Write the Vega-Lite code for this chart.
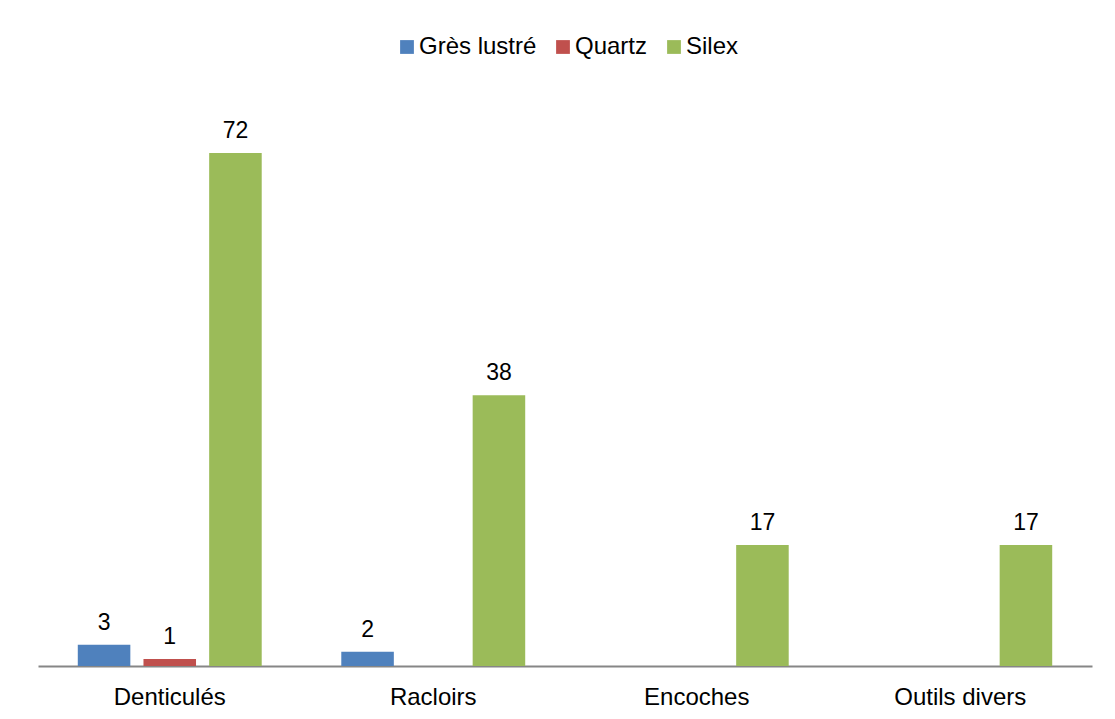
{
  "$schema": "https://vega.github.io/schema/vega-lite/v6.json",
  "width": 1054,
  "height": 570,
  "autosize": {"type": "none"},
  "padding": {"left": 38, "top": 96, "right": 23, "bottom": 53},
  "background": "white",
  "config": {"view": {"stroke": null}, "font": "Liberation Sans"},
  "data": {
    "values": [
      {"Catégorie": "Denticulés", "Matériau": "Grès lustré", "Nombre": 3},
      {"Catégorie": "Denticulés", "Matériau": "Quartz", "Nombre": 1},
      {"Catégorie": "Denticulés", "Matériau": "Silex", "Nombre": 72},
      {"Catégorie": "Racloirs", "Matériau": "Grès lustré", "Nombre": 2},
      {"Catégorie": "Racloirs", "Matériau": "Silex", "Nombre": 38},
      {"Catégorie": "Encoches", "Matériau": "Silex", "Nombre": 17},
      {"Catégorie": "Outils divers", "Matériau": "Silex", "Nombre": 17}
    ]
  },
  "encoding": {
    "x": {
      "field": "Catégorie",
      "type": "nominal",
      "sort": ["Denticulés", "Racloirs", "Encoches", "Outils divers"],
      "scale": {"paddingInner": 0.302, "paddingOuter": 0.151},
      "axis": {
        "title": null,
        "labelAngle": 0,
        "labelFontSize": 24,
        "labelColor": "#000000",
        "domainColor": "#868686",
        "domainWidth": 2,
        "ticks": false,
        "tickSize": 0,
        "labelPadding": 38,
        "labelBaseline": "alphabetic",
        "grid": false
      }
    },
    "xOffset": {
      "field": "Matériau",
      "type": "nominal",
      "sort": ["Grès lustré", "Quartz", "Silex"],
      "scale": {"paddingInner": 0.2, "paddingOuter": 0}
    },
    "y": {
      "field": "Nombre",
      "type": "quantitative",
      "scale": {"domain": [0, 80]},
      "axis": null
    }
  },
  "layer": [
    {
      "mark": {"type": "bar"},
      "encoding": {
        "color": {
          "field": "Matériau",
          "type": "nominal",
          "sort": ["Grès lustré", "Quartz", "Silex"],
          "scale": {"domain": ["Grès lustré", "Quartz", "Silex"], "range": ["#4F81BD", "#C0504D", "#9BBB59"]},
          "legend": {
            "title": null,
            "orient": "none",
            "direction": "horizontal",
            "legendX": 357,
            "legendY": -61,
            "symbolType": "square",
            "symbolSize": 190,
            "symbolStrokeWidth": 0,
            "labelFontSize": 24,
            "labelColor": "#000000",
            "labelOffset": 0,
            "columnPadding": 14
          }
        }
      }
    },
    {
      "mark": {"type": "text", "dy": -15, "baseline": "alphabetic", "fontSize": 23, "color": "#000000"},
      "encoding": {"text": {"field": "Nombre", "type": "quantitative"}}
    }
  ]
}
